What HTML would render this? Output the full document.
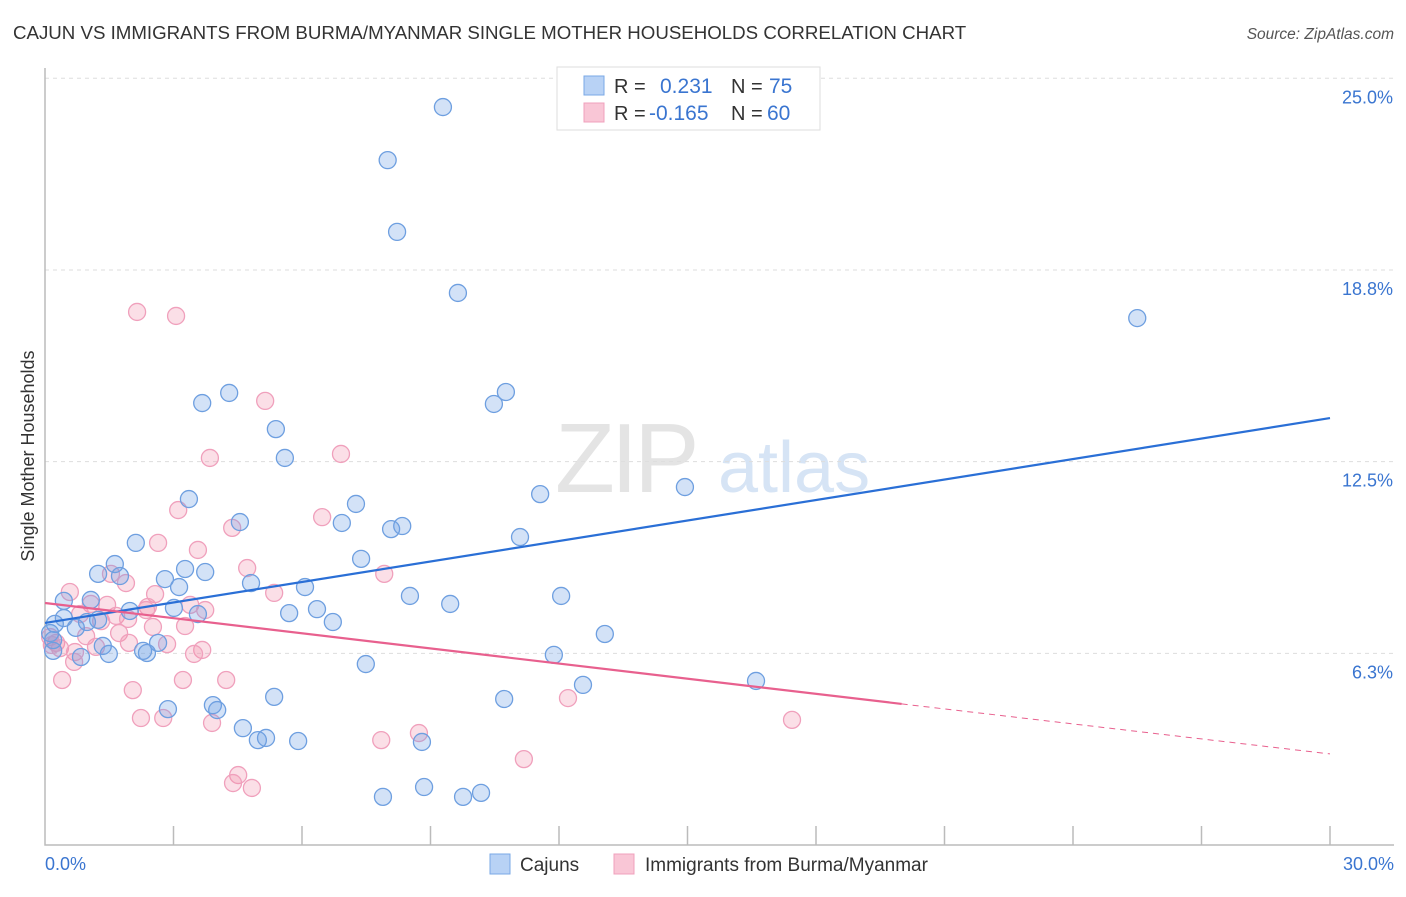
<!DOCTYPE html>
<html><head><meta charset="utf-8"><style>
body{margin:0;background:#fff;font-family:"Liberation Sans",sans-serif;}
svg text{font-family:"Liberation Sans",sans-serif;}
</style></head><body>
<svg id="chart" width="1406" height="892" viewBox="0 0 1406 892" xmlns="http://www.w3.org/2000/svg">
<text x="13" y="39" font-size="18.7" fill="#333">CAJUN VS IMMIGRANTS FROM BURMA/MYANMAR SINGLE MOTHER HOUSEHOLDS CORRELATION CHART</text>
<text x="1394" y="39" font-size="15.5" fill="#555" text-anchor="end" font-style="italic">Source: ZipAtlas.com</text>
<g>
<text x="555" y="492" font-size="98" fill="#e4e4e4" font-family="Liberation Serif" letter-spacing="-4">ZIP</text>
<text x="718" y="492" font-size="72" fill="#d6e4f5">atlas</text>
</g>
<g id="grid"></g>
<g id="axes"></g>
<g id="pts"></g>
<g id="trends"></g>
<text transform="translate(34,456) rotate(-90)" font-size="18" fill="#333" text-anchor="middle">Single Mother Households</text>
<g>
<rect x="557" y="67" width="263" height="63" fill="#fff" stroke="#ddd"/>
<rect x="584" y="76" width="20" height="19" fill="#b8d2f5" stroke="#7aa8e6"/>
<rect x="584" y="103" width="20" height="19" fill="#f9c6d6" stroke="#f0a0bc"/>
<text x="614" y="93" font-size="20" fill="#333">R =</text>
<text x="660" y="93" font-size="21" fill="#3a75d0">0.231</text>
<text x="731" y="93" font-size="20" fill="#333">N =</text>
<text x="769" y="93" font-size="21" fill="#3a75d0">75</text>
<text x="614" y="120" font-size="20" fill="#333">R =</text>
<text x="649" y="120" font-size="21" fill="#3a75d0">-0.165</text>
<text x="731" y="120" font-size="20" fill="#333">N =</text>
<text x="767" y="120" font-size="21" fill="#3a75d0">60</text>
</g>
<g>
<rect x="490" y="854" width="20" height="20" fill="#b8d2f5" stroke="#7aa8e6"/>
<text x="520" y="871" font-size="19" fill="#333">Cajuns</text>
<rect x="614" y="854" width="20" height="20" fill="#f9c6d6" stroke="#f0a0bc"/>
<text x="645" y="871" font-size="19" fill="#333">Immigrants from Burma/Myanmar</text>
</g>
</svg>
<script>
const xTickLabels=["0.0%","30.0%"];
const yTicks=[25,18.75,12.5,6.25];
const yTickLabels=["25.0%","18.8%","12.5%","6.3%"];
const cajunX=[9.29,8.0,8.22,9.64,25.5,4.30,3.67,10.76,10.48,5.39,5.60,14.94,11.56,3.36,7.26,4.55,6.93,8.08,8.34,11.09,2.12,7.38,1.63,3.27,3.74,1.24,1.75,2.80,4.81,6.07,3.13,8.52,12.05,0.44,1.07,1.98,3.01,9.46,5.70,6.35,3.57,6.72,1.24,0.44,0.98,0.72,0.23,0.12,13.07,2.64,1.35,0.19,2.29,2.38,1.49,0.84,11.88,7.49,16.60,12.56,5.35,3.92,10.72,2.87,4.02,4.62,5.16,4.97,5.91,8.80,8.85,7.89,9.76,10.18,0.19];
const cajunY=[24.06,22.33,19.99,18.0,17.18,14.74,14.41,14.77,14.38,13.56,12.62,11.67,11.44,11.28,11.12,10.53,10.50,10.30,10.40,10.04,9.85,9.33,9.16,9.0,8.90,8.84,8.77,8.67,8.54,8.41,8.41,8.12,8.12,7.96,7.99,7.63,7.73,7.86,7.56,7.69,7.53,7.27,7.34,7.40,7.27,7.08,7.21,6.91,6.88,6.59,6.49,6.33,6.33,6.26,6.23,6.13,6.20,5.90,5.35,5.22,4.83,4.56,4.76,4.43,4.40,3.81,3.49,3.42,3.39,3.36,1.89,1.57,1.57,1.70,6.68];
const burmaX=[2.15,3.06,5.14,6.91,3.85,6.47,3.11,4.37,2.64,3.57,4.72,7.92,1.54,1.89,0.58,2.57,5.35,1.07,1.45,2.40,2.36,3.39,3.74,0.82,1.66,1.94,3.27,2.52,1.31,1.73,0.96,0.26,1.96,2.85,3.67,3.48,1.19,0.35,0.70,0.68,0.40,3.22,4.23,2.05,12.21,2.24,2.76,3.90,17.44,8.73,7.85,4.51,4.39,4.83,11.18,0.12,0.16];
const burmaY=[17.38,17.25,14.48,12.75,12.62,10.69,10.92,10.34,9.85,9.62,9.03,8.84,8.84,8.54,8.25,8.18,8.22,7.86,7.83,7.76,7.66,7.83,7.66,7.53,7.47,7.37,7.14,7.11,7.30,6.91,6.81,6.59,6.59,6.55,6.36,6.23,6.46,6.42,6.29,5.97,5.38,5.38,5.38,5.05,4.79,4.14,4.14,3.98,4.08,3.65,3.42,2.28,2.02,1.86,2.80,6.78,6.52];
const cajunTrend=[[0,7.24],[30,13.92]];
const burmaTrend=[[0,7.89],[20,4.60],[30,2.97]];

const NS="http://www.w3.org/2000/svg";
const X0=45,X1=1330,Y0=845,PPY=30.67;
const sx=v=>X0+(X1-X0)*v/30;
const sy=v=>Y0-v*PPY;
function mk(tag,attrs,parent){const e=document.createElementNS(NS,tag);for(const k in attrs)e.setAttribute(k,attrs[k]);parent.appendChild(e);return e;}
const grid=document.getElementById('grid'),axes=document.getElementById('axes'),pts=document.getElementById('pts'),tr=document.getElementById('trends');
yTicks.forEach((t,i)=>{
  const l=mk('line',{x1:X0,x2:1394,y1:sy(t),y2:sy(t),stroke:'#ddd','stroke-dasharray':'4,4'},grid);
  
  
  const tx=mk('text',{x:1393,y:sy(t)+25,'font-size':18,fill:'#3a75d0','text-anchor':'end'},grid);
  tx.textContent=yTickLabels[i];
  
  
});
const ax=mk('path',{d:`M${X0},68V${Y0}H1394`,fill:'none',stroke:'#bbb','stroke-width':1.5},axes);


for(let v=3;v<=30;v+=3){
  const t=mk('line',{x1:sx(v),x2:sx(v),y1:826,y2:Y0,stroke:'#bbb','stroke-width':1.5},axes);
  
  
}
[[0,'start',45],[30,'end',1394]].forEach((d,i)=>{
  const t=mk('text',{x:d[2],y:870,'font-size':18,fill:'#3a75d0','text-anchor':d[1]},axes);
  t.textContent=xTickLabels[i];
  
  
});
function drawPts(xs,ys,fill,stroke,name){
  xs.forEach((x,i)=>{
    const c=mk('circle',{cx:sx(x),cy:sy(ys[i]),r:8.5,fill:fill,stroke:stroke,'stroke-width':1.3},pts);
    
    
  });
}
drawPts(burmaX,burmaY,'rgba(240,140,170,0.28)','#f0a0bc','burma-point');
drawPts(cajunX,cajunY,'rgba(110,160,230,0.3)','#6e9fe0','cajun-point');
const bl=mk('line',{x1:sx(cajunTrend[0][0]),y1:sy(cajunTrend[0][1]),x2:sx(cajunTrend[1][0]),y2:sy(cajunTrend[1][1]),stroke:'#2a6fd6','stroke-width':2.2},tr);


const pl=mk('line',{x1:sx(burmaTrend[0][0]),y1:sy(burmaTrend[0][1]),x2:sx(burmaTrend[1][0]),y2:sy(burmaTrend[1][1]),stroke:'#e8608e','stroke-width':2.2},tr);


const pd=mk('line',{x1:sx(burmaTrend[1][0]),y1:sy(burmaTrend[1][1]),x2:sx(burmaTrend[2][0]),y2:sy(burmaTrend[2][1]),stroke:'#e8608e','stroke-width':1,'stroke-dasharray':'6,5'},tr);


</script>
</body></html>
